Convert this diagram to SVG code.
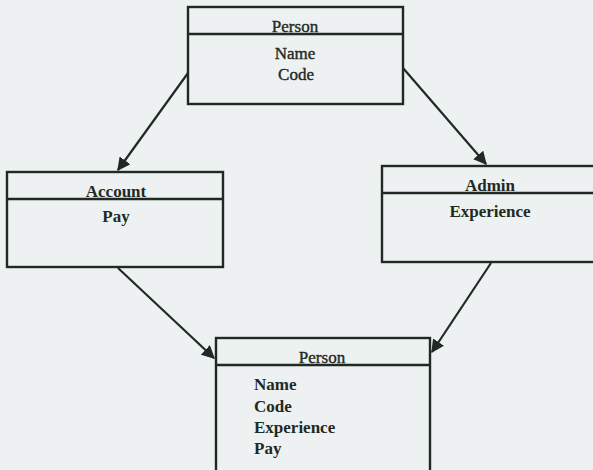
<svg xmlns="http://www.w3.org/2000/svg" width="593" height="470" viewBox="0 0 593 470">
<style>
.box{fill:none;stroke:#1f2a23;stroke-width:2.4}
.t{font-family:"Liberation Serif","Times New Roman",serif;fill:#1f2a23;font-size:17px}
.r{stroke:#1f2a23;stroke-width:0.4}
.b{font-weight:bold}
.c{text-anchor:middle}
.edge{stroke:#1f2a23;stroke-width:2.2;fill:none;marker-end:url(#ah)}
</style>
<defs>
<marker id="ah" viewBox="0 0 10 10" refX="9" refY="5" markerWidth="6" markerHeight="6" markerUnits="strokeWidth" orient="auto">
<path d="M0,0 L10,5 L0,10 z" fill="#1f2a23"/>
</marker>
</defs>
<rect width="593" height="470" fill="#eef1f2"/>
<g id="person-top">
<rect class="box" x="188" y="7" width="215" height="97"/>
<line class="box" x1="188" y1="34" x2="403" y2="34"/>
<text class="t r c" x="295" y="32">Person</text>
<text class="t r c" x="295" y="59">Name</text>
<text class="t r c" x="296" y="80">Code</text>
</g>
<g id="account">
<rect class="box" x="7" y="172" width="216" height="95"/>
<line class="box" x1="7" y1="199" x2="223" y2="199"/>
<text class="t b c" x="116" y="197">Account</text>
<text class="t b c" x="116" y="222">Pay</text>
</g>
<g id="admin">
<rect class="box" x="382" y="166" width="216" height="96"/>
<line class="box" x1="382" y1="193" x2="598" y2="193"/>
<text class="t b c" x="490" y="191">Admin</text>
<text class="t b c" x="490" y="217">Experience</text>
</g>
<g id="person-bottom">
<rect class="box" x="216" y="338" width="214" height="145"/>
<line class="box" x1="216" y1="365" x2="430" y2="365"/>
<text class="t r c" x="322" y="363">Person</text>
<text class="t b" x="254" y="390">Name</text>
<text class="t b" x="254" y="412">Code</text>
<text class="t b" x="254" y="433">Experience</text>
<text class="t b" x="254" y="454">Pay</text>
</g>
<g id="connectors">
<line class="edge" x1="188" y1="73" x2="118" y2="170"/>
<line class="edge" x1="403" y1="68" x2="486" y2="164"/>
<line class="edge" x1="118" y1="268" x2="214" y2="358"/>
<line class="edge" x1="491" y1="263" x2="432" y2="352"/>
</g>
</svg>
